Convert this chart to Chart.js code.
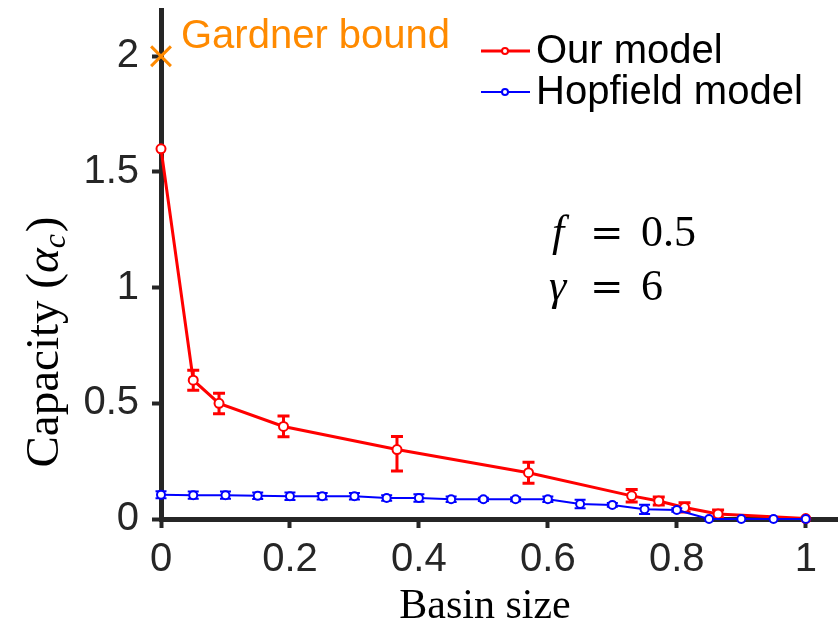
<!DOCTYPE html>
<html>
<head>
<meta charset="utf-8">
<script src="https://cdn.jsdelivr.net/npm/chart.js@4"></script>
<style>
  html, body { margin: 0; padding: 0; background: #fff; }
  canvas { display: block; }
</style>
</head>
<body>
<canvas id="cap" width="838" height="628"></canvas>
<script>
// values
const redX = [0, 0.05, 0.09, 0.19, 0.366, 0.57, 0.73, 0.772, 0.812, 0.864, 1.0];
const redY = [1.6, 0.6, 0.5, 0.4, 0.3, 0.2, 0.1, 0.078, 0.05, 0.022, 0.002];
const redErrHi = [0, 0.043, 0.043, 0.045, 0.057, 0.045, 0.027, 0.017, 0.02, 0.017, 0];
const redErrLo = [0, 0.043, 0.045, 0.045, 0.092, 0.045, 0.027, 0.017, 0.02, 0.017, 0];

const blueX = [0, 0.05, 0.1, 0.15, 0.2, 0.25, 0.3, 0.35, 0.4, 0.45, 0.5, 0.55, 0.6, 0.65, 0.7, 0.75, 0.8, 0.85, 0.9, 0.95, 1.0];
const blueY = [0.105, 0.103, 0.103, 0.1, 0.098, 0.098, 0.098, 0.091, 0.091, 0.085, 0.085, 0.085, 0.085, 0.065, 0.061, 0.042, 0.039, 0, 0, 0, 0];
const blueErr = [0.015, 0.016, 0.016, 0.014, 0.016, 0.014, 0.014, 0.012, 0.016, 0.012, 0.007, 0.008, 0.012, 0.018, 0.008, 0.02, 0.008, 0, 0, 0, 0];

const gardnerX = [0];
const gardnerY = [2];

const xTicks = [0, 0.2, 0.4, 0.6, 0.8, 1];
const yTicks = [0, 0.5, 1, 1.5, 2];

const AXIS = '#262626';
const RED = '#ff0000';
const BLUE = '#0000ff';
const ORANGE = '#ff8a00';

const toPts = (xs, ys) => xs.map((x, i) => ({ x, y: ys[i] }));

// error bars drawn under each series' line and markers
const errorBars = {
  id: 'errorBars',
  beforeDatasetDraw(chart, args) {
    const ds = chart.data.datasets[args.index];
    if (!ds.errHi) return;
    const ctx = chart.ctx, ys = chart.scales.y;
    ctx.save();
    ctx.strokeStyle = ds.borderColor;
    ctx.lineWidth = ds.errWidth;
    args.meta.data.forEach((el, i) => {
      const hi = ds.errHi[i], lo = ds.errLo[i];
      if (!hi && !lo) return;
      const v = ds.data[i].y;
      const yt = ys.getPixelForValue(v + hi), yb = ys.getPixelForValue(v - lo);
      const x = el.x, c = ds.capHalf;
      ctx.beginPath();
      ctx.moveTo(x, yt); ctx.lineTo(x, yb);
      ctx.moveTo(x - c, yt); ctx.lineTo(x + c, yt);
      ctx.moveTo(x - c, yb); ctx.lineTo(x + c, yb);
      ctx.stroke();
    });
    ctx.restore();
  }
};

// legend, annotations and axis titles
const decorations = {
  id: 'decorations',
  afterDraw(chart) {
    const ctx = chart.ctx;
    ctx.save();

    // Gardner label
    ctx.fillStyle = ORANGE;
    ctx.font = '40px "Liberation Sans", Arial, sans-serif';
    ctx.textBaseline = 'alphabetic';
    ctx.textAlign = 'left';
    ctx.fillText('Gardner bound', 181, 48);

    // legend
    const items = [
      { label: 'Our model', color: RED, y: 51, w: 3 },
      { label: 'Hopfield model', color: BLUE, y: 92, w: 2 }
    ];
    items.forEach(it => {
      ctx.strokeStyle = it.color;
      ctx.lineWidth = it.w;
      ctx.beginPath();
      ctx.moveTo(481, it.y); ctx.lineTo(530, it.y);
      ctx.stroke();
      ctx.beginPath();
      ctx.arc(505, it.y, 3, 0, Math.PI * 2);
      ctx.fillStyle = '#fff';
      ctx.fill();
      ctx.lineWidth = 2;
      ctx.stroke();
      ctx.fillStyle = '#000';
      ctx.font = '40px "Liberation Sans", Arial, sans-serif';
      ctx.fillText(it.label, 536, it.y + 12);
    });

    // parameter annotations
    ctx.fillStyle = '#000';
    ctx.font = 'italic 44px "Liberation Serif", serif';
    ctx.fillText('f', 552, 246);
    ctx.fillText('γ', 549, 300);
    ctx.font = '40px "DejaVu Serif", serif';
    ctx.fillText('=', 590, 246);
    ctx.fillText('=', 590, 300);
    ctx.font = '44px "Liberation Serif", serif';
    ctx.fillText('0.5', 641, 246);
    ctx.fillText('6', 641, 300);

    // x title
    ctx.font = '42px "Liberation Serif", serif';
    ctx.textAlign = 'center';
    ctx.fillText('Basin size', 485, 618);

    // y title with subscript
    ctx.translate(58, 343);
    ctx.rotate(-Math.PI / 2);
    const main = 'Capacity (', greek = 'α', sub = 'c', close = ')';
    const big = '47px "Liberation Serif", serif';
    const bigIt = 'italic 47px "Liberation Serif", serif';
    const small = 'italic 32px "Liberation Serif", serif';
    ctx.font = big;
    const wMain = ctx.measureText(main).width;
    const wClose = ctx.measureText(close).width;
    ctx.font = bigIt;
    const wGreek = ctx.measureText(greek).width;
    ctx.font = small;
    const wSub = ctx.measureText(sub).width;
    let x = -(wMain + wGreek + wSub + wClose) / 2;
    ctx.textAlign = 'left';
    ctx.font = big;
    ctx.fillText(main, x, 0); x += wMain;
    ctx.font = bigIt;
    ctx.fillText(greek, x, 0); x += wGreek;
    ctx.font = small;
    ctx.fillText(sub, x, 7); x += wSub + 2;
    ctx.font = big;
    ctx.fillText(close, x, 0);

    ctx.restore();
  }
};

new Chart(document.getElementById('cap'), {
  type: 'scatter',
  data: {
    datasets: [
      {
        label: 'Gardner bound',
        data: toPts(gardnerX, gardnerY),
        showLine: false,
        pointStyle: 'crossRot',
        pointRadius: 14,
        borderColor: ORANGE,
        borderWidth: 3,
        clip: false,
        order: 0
      },
      {
        label: 'Hopfield model',
        data: toPts(blueX, blueY),
        showLine: true,
        borderColor: BLUE,
        borderWidth: 2,
        pointRadius: 4,
        pointBorderWidth: 2,
        pointBackgroundColor: '#fff',
        pointBorderColor: BLUE,
        errHi: blueErr, errLo: blueErr, errWidth: 2, capHalf: 5.5,
        clip: false,
        order: 1
      },
      {
        label: 'Our model',
        data: toPts(redX, redY),
        showLine: true,
        borderColor: RED,
        borderWidth: 3,
        pointRadius: 4.5,
        pointBorderWidth: 2,
        pointBackgroundColor: '#fff',
        pointBorderColor: RED,
        errHi: redErrHi, errLo: redErrLo, errWidth: 3, capHalf: 6,
        clip: false,
        order: 2
      }
    ]
  },
  options: {
    responsive: false,
    animation: false,
    devicePixelRatio: 1,
    layout: { autoPadding: false, padding: { top: 10, right: 0, left: 0, bottom: 0 } },
    plugins: { legend: { display: false }, tooltip: { enabled: false } },
    scales: {
      x: {
        type: 'linear', min: 0, max: 1.05,
        afterFit: s => { s.height = 109; s.paddingLeft = 0; s.paddingRight = 0; },
        afterBuildTicks: s => { s.ticks = xTicks.map(v => ({ value: v })); },
        border: { color: AXIS, width: 5 },
        grid: { drawOnChartArea: false, tickLength: 9, tickWidth: 4, tickColor: AXIS },
        ticks: {
          color: AXIS, padding: 8, maxRotation: 0,
          font: { family: '"Liberation Sans", Arial, sans-serif', size: 40 },
          callback: v => String(v)
        }
      },
      y: {
        type: 'linear', min: 0, max: 2.2,
        afterFit: s => { s.width = 161; s.paddingTop = 0; s.paddingBottom = 0; },
        afterBuildTicks: s => { s.ticks = yTicks.map(v => ({ value: v })); },
        border: { color: AXIS, width: 5 },
        grid: { drawOnChartArea: false, tickLength: 9, tickWidth: 4, tickColor: AXIS },
        ticks: {
          color: AXIS, padding: 13,
          font: { family: '"Liberation Sans", Arial, sans-serif', size: 40 },
          callback: v => String(v)
        }
      }
    }
  },
  plugins: [errorBars, decorations]
});
</script>
</body>
</html>
